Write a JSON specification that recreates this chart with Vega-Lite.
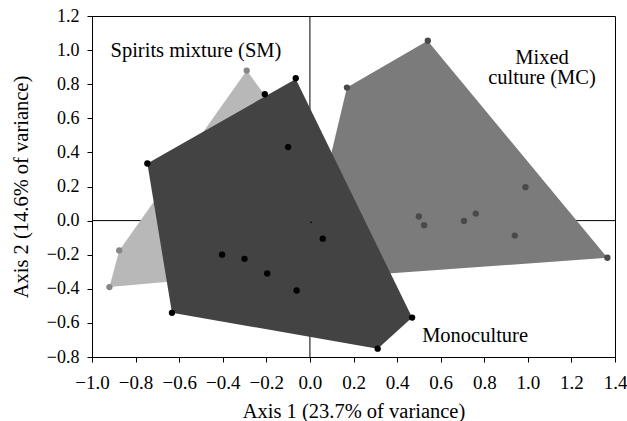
{
  "$schema": "https://vega.github.io/schema/vega-lite/v6.json",
  "width": 523,
  "height": 341,
  "autosize": {"type": "none"},
  "padding": {"left": 92, "top": 16, "right": 12, "bottom": 64},
  "config": {
    "view": {"stroke": "#000", "strokeWidth": 1},
    "font": "Liberation Serif",
    "axis": {
      "grid": false,
      "domainColor": "#000",
      "tickColor": "#000",
      "tickSize": 5,
      "labelColor": "#000",
      "titleColor": "#000",
      "labelFont": "Liberation Serif",
      "titleFont": "Liberation Serif",
      "labelFontSize": 19,
      "titleFontSize": 20.5,
      "titleFontWeight": "normal",
      "labelOverlap": false,
      "labelFlush": false,
      "labelBound": false
    }
  },
  "datasets": {
    "hulls": [
      {"group": "SM", "k": 1, "x": -0.29, "y": 0.88},
      {"group": "SM", "k": 2, "x": -0.05, "y": 0.46},
      {"group": "SM", "k": 3, "x": -0.05, "y": -0.29},
      {"group": "SM", "k": 4, "x": -0.92, "y": -0.39},
      {"group": "SM", "k": 5, "x": -0.875, "y": -0.175},
      {"group": "MC", "k": 1, "x": 0.17, "y": 0.78},
      {"group": "MC", "k": 2, "x": 0.54, "y": 1.055},
      {"group": "MC", "k": 3, "x": 1.365, "y": -0.218},
      {"group": "MC", "k": 4, "x": -0.04, "y": -0.347},
      {"group": "Mono", "k": 1, "x": -0.746, "y": 0.335},
      {"group": "Mono", "k": 2, "x": -0.065, "y": 0.83},
      {"group": "Mono", "k": 3, "x": 0.469, "y": -0.569},
      {"group": "Mono", "k": 4, "x": 0.311, "y": -0.751},
      {"group": "Mono", "k": 5, "x": -0.633, "y": -0.541}
    ],
    "points": [
      {"group": "SM", "x": -0.29, "y": 0.88},
      {"group": "SM", "x": -0.875, "y": -0.175},
      {"group": "SM", "x": -0.92, "y": -0.39},
      {"group": "MC", "x": 0.541, "y": 1.055},
      {"group": "MC", "x": 0.17, "y": 0.78},
      {"group": "MC", "x": 0.989, "y": 0.196},
      {"group": "MC", "x": 0.5, "y": 0.024},
      {"group": "MC", "x": 0.524, "y": -0.027},
      {"group": "MC", "x": 0.707, "y": -0.002},
      {"group": "MC", "x": 0.761, "y": 0.041},
      {"group": "MC", "x": 0.94, "y": -0.088},
      {"group": "MC", "x": 1.365, "y": -0.218},
      {"group": "Mono", "x": -0.746, "y": 0.335},
      {"group": "Mono", "x": -0.207, "y": 0.741},
      {"group": "Mono", "x": -0.065, "y": 0.835},
      {"group": "Mono", "x": -0.1, "y": 0.431},
      {"group": "Mono", "x": -0.633, "y": -0.541},
      {"group": "Mono", "x": -0.403, "y": -0.2},
      {"group": "Mono", "x": -0.3, "y": -0.224},
      {"group": "Mono", "x": -0.196, "y": -0.31},
      {"group": "Mono", "x": -0.061, "y": -0.41},
      {"group": "Mono", "x": 0.059, "y": -0.106},
      {"group": "Mono", "x": 0.469, "y": -0.569},
      {"group": "Mono", "x": 0.311, "y": -0.751}
    ],
    "origin": [{"x": 0.005, "y": -0.01}],
    "labels": [
      {"text": "Spirits mixture (SM)", "x": -0.523, "y": 0.994},
      {"text": "Mixed", "x": 1.065, "y": 0.953},
      {"text": "culture (MC)", "x": 1.065, "y": 0.835},
      {"text": "Monoculture", "x": 0.758, "y": -0.676}
    ],
    "axes0": [{"v": 0}]
  },
  "layer": [
    {
      "data": {"name": "axes0"},
      "mark": {"type": "rule", "color": "#000", "strokeWidth": 1},
      "encoding": {"x": {"field": "v", "type": "quantitative", "scale": {"domain": [-1, 1.4], "nice": false, "zero": false},
          "axis": {"values": [-1, -0.8, -0.6, -0.4, -0.2, 0, 0.2, 0.4, 0.6, 0.8, 1, 1.2, 1.4], "format": ".1f", "title": "Axis 1 (23.7% of variance)", "titlePadding": 9, "labelPadding": 11, "labelOverlap": false}}}
    },
    {
      "data": {"name": "axes0"},
      "mark": {"type": "rule", "color": "#000", "strokeWidth": 1},
      "encoding": {"y": {"field": "v", "type": "quantitative", "scale": {"domain": [-0.8, 1.2], "nice": false, "zero": false},
          "axis": {"values": [-0.8, -0.6, -0.4, -0.2, 0, 0.2, 0.4, 0.6, 0.8, 1, 1.2], "tickCount": 11, "format": ".1f", "title": "Axis 2 (14.6% of variance)", "titlePadding": 15, "labelPadding": 8, "labelOverlap": false, "labelSeparation": 0, "labelFontSize": 18}}}
    },
    {
      "data": {"name": "hulls"},
      "transform": [{"filter": "datum.group === 'SM'"}],
      "mark": {"type": "line", "interpolate": "linear-closed", "fill": "#b8b8b8", "stroke": null, "strokeWidth": 0},
      "encoding": {
        "x": {"field": "x", "type": "quantitative"},
        "y": {"field": "y", "type": "quantitative", "axis": {"values": [-0.8, -0.6, -0.4, -0.2, 0, 0.2, 0.4, 0.6, 0.8, 1, 1.2], "tickCount": 11, "format": ".1f", "title": "Axis 2 (14.6% of variance)", "titlePadding": 15, "labelPadding": 8, "labelOverlap": false, "labelSeparation": 0, "labelFontSize": 18}},
        "order": {"field": "k", "type": "quantitative"}
      }
    },
    {
      "data": {"name": "points"},
      "transform": [{"filter": "datum.group === 'SM'"}],
      "mark": {"type": "circle", "size": 40, "color": "#878787", "opacity": 1},
      "encoding": {
        "x": {"field": "x", "type": "quantitative"},
        "y": {"field": "y", "type": "quantitative"}
      }
    },
    {
      "data": {"name": "hulls"},
      "transform": [{"filter": "datum.group === 'MC'"}],
      "mark": {"type": "line", "interpolate": "linear-closed", "fill": "#7b7b7b", "stroke": null, "strokeWidth": 0},
      "encoding": {
        "x": {"field": "x", "type": "quantitative"},
        "y": {"field": "y", "type": "quantitative"},
        "order": {"field": "k", "type": "quantitative"}
      }
    },
    {
      "data": {"name": "points"},
      "transform": [{"filter": "datum.group === 'MC'"}],
      "mark": {"type": "circle", "size": 40, "color": "#4a4a4a", "opacity": 1},
      "encoding": {
        "x": {"field": "x", "type": "quantitative"},
        "y": {"field": "y", "type": "quantitative"}
      }
    },
    {
      "data": {"name": "hulls"},
      "transform": [{"filter": "datum.group === 'Mono'"}],
      "mark": {"type": "line", "interpolate": "linear-closed", "fill": "#434343", "stroke": null, "strokeWidth": 0},
      "encoding": {
        "x": {"field": "x", "type": "quantitative"},
        "y": {"field": "y", "type": "quantitative"},
        "order": {"field": "k", "type": "quantitative"}
      }
    },
    {
      "data": {"name": "points"},
      "transform": [{"filter": "datum.group === 'Mono'"}],
      "mark": {"type": "circle", "size": 40, "color": "#000", "opacity": 1},
      "encoding": {
        "x": {"field": "x", "type": "quantitative"},
        "y": {"field": "y", "type": "quantitative"}
      }
    },
    {
      "data": {"name": "origin"},
      "mark": {"type": "circle", "size": 3, "color": "#000", "opacity": 1},
      "encoding": {
        "x": {"field": "x", "type": "quantitative"},
        "y": {"field": "y", "type": "quantitative"}
      }
    },
    {
      "data": {"name": "labels"},
      "mark": {"type": "text", "font": "Liberation Serif", "fontSize": 20.5, "color": "#000", "align": "center", "baseline": "middle"},
      "encoding": {
        "x": {"field": "x", "type": "quantitative"},
        "y": {"field": "y", "type": "quantitative"},
        "text": {"field": "text"}
      }
    }
  ]
}
